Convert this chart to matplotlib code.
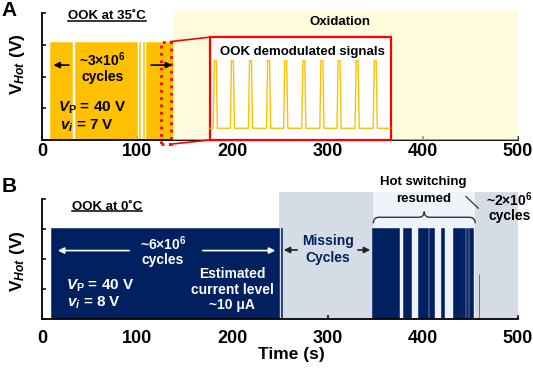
import numpy as np
import matplotlib.pyplot as plt
from matplotlib.path import Path
from matplotlib.patches import PathPatch, Rectangle
from matplotlib.lines import Line2D

plt.rcParams['font.family'] = ['Liberation Sans', 'DejaVu Sans']
plt.rcParams['font.weight'] = 'bold'
plt.rcParams['mathtext.fontset'] = 'custom'
plt.rcParams['mathtext.rm'] = 'Liberation Sans:bold'
plt.rcParams['mathtext.it'] = 'Liberation Sans:italic:bold'
plt.rcParams['mathtext.bf'] = 'Liberation Sans:bold'

ORANGE = '#ffc000'
NAVY = '#002060'
RED = '#ff0000'

# ---- panel A: OOK at 35 C ----
a_starts = [8.4, 34.7, 101.8, 105.8, 109.2]
a_ends = [31.2, 99.5, 102.6, 107.1, 137.9]
a_level = 3.1
a_oxidation = (137.9, 500)
a_zoom = (124.5, 135.0)
# demodulated signal shown in the inset box
pulse_centers = [182, 200, 219, 238, 256, 275, 294, 312, 331, 350]
pulse_low = 0.37
pulse_high = 2.5
inset_x = (176.5, 366.6)
inset_top = 3.24

# ---- panel B: OOK at 0 C ----
b_starts = [9, 250.6, 347, 379.5, 395.3, 406.8, 419.1, 432, 441.5, 445.4, 448.8]
b_ends = [249, 251.6, 375.3, 387.3, 405.8, 411.8, 421.9, 440.9, 444.3, 447.8, 453]
b_level = 3.05
b_spike_x = 459
b_spike_h = 1.5
missing_regions = [(249, 348), (455, 500)]
resumed_region = (348, 455)

xticks = [0, 100, 200, 300, 400, 500]


def style_axis(ax, ytop, pad):
    ax.set_xlim(0, 500)
    ax.set_ylim(0, ytop)
    for s in ['top', 'right']:
        ax.spines[s].set_visible(False)
    ax.spines['left'].set_bounds(0, 4)
    for s in ['left', 'bottom']:
        ax.spines[s].set_linewidth(1.3)
    ax.set_xticks(xticks)
    ax.set_xticklabels([str(t) for t in xticks], fontsize=13, fontweight='bold')
    ax.set_yticks([0, 1, 2, 3, 4])
    ax.set_yticklabels([])
    ax.tick_params(direction='in', length=3, width=1.1)
    ax.tick_params(axis='x', pad=pad)
    ax.set_ylabel('V$_{\\mathit{Hot}}$ (V)', fontsize=12.5, fontweight='bold')


def underline(fig, ax, txt):
    fig.canvas.draw()
    bb = txt.get_window_extent()
    inv = fig.transFigure.inverted()
    (x0, y0), (x1, _) = inv.transform([(bb.x0, bb.y0 + 1.5), (bb.x1, bb.y0 + 1.5)])
    fig.add_artist(Line2D([x0, x1], [y0, y0], color='black', lw=1.1))


def curly_brace(ax, x0, x1, y_end, y_mid, y_tip, r):
    xm = (x0 + x1) / 2
    verts = [(x0, y_end), (x0, y_mid), (x0 + r, y_mid), (xm - r, y_mid),
             (xm, y_mid), (xm, y_tip),
             (xm, y_tip), (xm, y_mid), (xm + r, y_mid), (x1 - r, y_mid),
             (x1, y_mid), (x1, y_end)]
    codes = [Path.MOVETO, Path.CURVE3, Path.CURVE3, Path.LINETO,
             Path.CURVE3, Path.CURVE3,
             Path.MOVETO, Path.CURVE3, Path.CURVE3, Path.LINETO,
             Path.CURVE3, Path.CURVE3]
    ax.add_patch(PathPatch(Path(verts, codes), fill=False, color='#333333',
                           lw=1.0, zorder=6, clip_on=False))


fig = plt.figure(figsize=(5.33, 3.71), dpi=100)
axA = fig.add_axes([0.0788, 0.6226, 0.8931, 0.3509])
axB = fig.add_axes([0.0788, 0.1394, 0.8931, 0.3437])

# ================= panel A =================
axA.bar(a_starts, [a_level] * len(a_starts), width=np.array(a_ends) - np.array(a_starts),
        align='edge', color=ORANGE, edgecolor=ORANGE, lw=0.4, zorder=2)
axA.axvspan(a_oxidation[0], a_oxidation[1], ymin=0, ymax=1, color='#fffac8',
            alpha=0.6, lw=0, zorder=3)

# dotted selection window and the lines to the inset
axA.add_patch(Rectangle((a_zoom[0], -0.13), a_zoom[1] - a_zoom[0], a_level + 0.13,
                        fill=False, edgecolor=RED, ls=':', lw=2.0, zorder=5, clip_on=False))
axA.plot([a_zoom[1], inset_x[0]], [a_level, inset_top], color=RED, lw=1.2, zorder=5,
         clip_on=False)
axA.plot([a_zoom[1], inset_x[0]], [-0.13, 0], color=RED, lw=1.2, zorder=5, clip_on=False)

# inset with demodulated signal
axA.add_patch(Rectangle((inset_x[0], 0), inset_x[1] - inset_x[0], inset_top,
                        facecolor='white', edgecolor=RED, lw=1.6, zorder=4, clip_on=False))
px, py = [inset_x[0]], [pulse_low]
for c in pulse_centers:
    px += [c - 2.2, c - 1.0, c + 1.0, c + 2.2]
    py += [pulse_low, pulse_high, pulse_high, pulse_low]
px.append(inset_x[1] - 1)
py.append(pulse_low)
axA.plot(px, py, color=ORANGE, lw=1.0, zorder=5)
axA.text(274, 2.78, 'OOK demodulated signals', ha='center', va='center',
         fontsize=9.5, fontweight='bold', zorder=6)

axA.text(313, 3.72, 'Oxidation', ha='center', va='center', fontsize=9.5,
         fontweight='bold', zorder=6)
tA = axA.text(27.3, 3.9, 'OOK at 35˚C', ha='left', va='center', fontsize=9.5,
              fontweight='bold', zorder=6)
axA.text(63.6, 2.52, '~3×10$^{6}$', ha='center', va='center', fontsize=10, zorder=6)
axA.text(63.6, 1.98, 'cycles', ha='center', va='center', fontsize=10, zorder=6)
axA.text(17.2, 1.02, '$V_{\\mathrm{P}}$ = 40 V', ha='left', va='center', fontsize=11, zorder=6)
axA.text(19, 0.45, '$v_i$ = 7 V', ha='left', va='center', fontsize=11, zorder=6)
axA.annotate('', xy=(9.1, 2.36), xytext=(31.2, 2.36),
             arrowprops=dict(arrowstyle='-|>', color='black', lw=1.2, mutation_scale=9),
             zorder=6)
axA.annotate('', xy=(139.7, 2.36), xytext=(111.7, 2.36),
             arrowprops=dict(arrowstyle='-|>', color='black', lw=1.2, mutation_scale=9),
             zorder=6)

style_axis(axA, 4.1, 2)
axA.yaxis.set_label_coords(-0.032, 0.584)

# ================= panel B =================
for x0, x1 in missing_regions:
    axB.axvspan(x0, x1, ymin=0, ymax=1, color='#d6dce5', lw=0, zorder=0)
axB.axvspan(resumed_region[0], resumed_region[1], ymin=0, ymax=1, color='#eef3fa',
            lw=0, zorder=0)
axB.bar(b_starts, [b_level] * len(b_starts), width=np.array(b_ends) - np.array(b_starts),
        align='edge', color=NAVY, edgecolor=NAVY, lw=0.4, zorder=2)
axB.bar([b_spike_x], [b_spike_h], width=0.6, align='center', color=NAVY,
        edgecolor=NAVY, lw=0.4, zorder=2)

tB = axB.text(31.5, 3.75, 'OOK at 0˚C', ha='left', va='center', fontsize=9.5,
              fontweight='bold', zorder=6)
axB.text(127, 2.52, '~6×10$^{6}$', ha='center', va='center', fontsize=10,
         color='white', zorder=6)
axB.text(127, 1.97, 'cycles', ha='center', va='center', fontsize=10, color='white', zorder=6)
axB.annotate('', xy=(13.7, 2.29), xytext=(94.5, 2.29),
             arrowprops=dict(arrowstyle='-|>', color='white', lw=1.2, mutation_scale=9),
             zorder=6)
axB.annotate('', xy=(248, 2.29), xytext=(166, 2.29),
             arrowprops=dict(arrowstyle='-|>', color='white', lw=1.2, mutation_scale=9),
             zorder=6)
for y, s in zip([1.5, 0.98, 0.48], ['Estimated', 'current level', '~10 μA']):
    axB.text(199.6, y, s, ha='center', va='center', fontsize=10, color='white', zorder=6)
axB.text(25, 1.1, '$V_{\\mathrm{P}}$ = 40 V', ha='left', va='center', fontsize=11,
         color='white', zorder=6)
axB.text(26, 0.56, '$v_i$ = 8 V', ha='left', va='center', fontsize=11, color='white', zorder=6)

axB.text(300.4, 2.6, 'Missing', ha='center', va='center', fontsize=10, color=NAVY, zorder=6)
axB.text(300.4, 2.03, 'Cycles', ha='center', va='center', fontsize=10, color=NAVY, zorder=6)
axB.annotate('', xy=(251, 2.31), xytext=(271, 2.31),
             arrowprops=dict(arrowstyle='-|>', color='#222222', lw=1.2, mutation_scale=9),
             zorder=6)
axB.annotate('', xy=(347.7, 2.31), xytext=(328.8, 2.31),
             arrowprops=dict(arrowstyle='-|>', color='#222222', lw=1.2, mutation_scale=9),
             zorder=6)

axB.text(400.5, 4.59, 'Hot switching', ha='center', va='center', fontsize=9.5, zorder=6,
         clip_on=False)
axB.text(400.5, 4.01, 'resumed', ha='center', va='center', fontsize=9.5, zorder=6)
curly_brace(axB, 348, 455, 3.2, 3.4, 3.59, 6)
axB.plot([445.4, 458.3], [4.09, 3.7], color='#333333', lw=0.9, zorder=6)
axB.text(491, 3.98, '~2×10$^{6}$', ha='center', va='center', fontsize=10, zorder=6,
         clip_on=False)
axB.text(491, 3.45, 'cycles', ha='center', va='center', fontsize=10, zorder=6)

style_axis(axB, 4.25, 8)
axB.yaxis.set_label_coords(-0.032, 0.453)
axB.set_xlabel('Time (s)', fontsize=12.5, fontweight='bold')
axB.xaxis.set_label_coords(0.523, -0.215)

fig.text(9 / 533, 1 - 11 / 371, 'A', ha='center', va='center', fontsize=15, fontweight='bold')
fig.text(9 / 533, 1 - 186 / 371, 'B', ha='center', va='center', fontsize=15, fontweight='bold')

underline(fig, axA, tA)
underline(fig, axB, tB)

fig.savefig('out.png', dpi=100)
